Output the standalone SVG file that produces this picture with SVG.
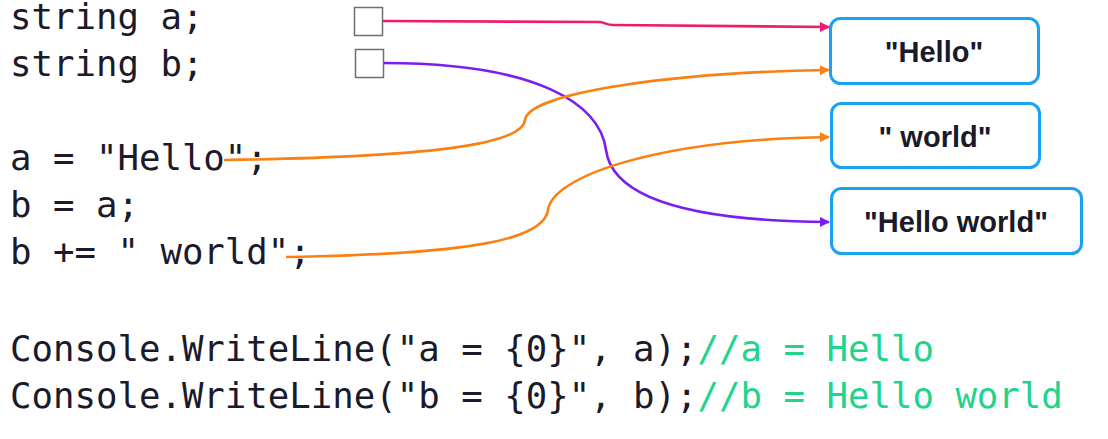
<svg xmlns="http://www.w3.org/2000/svg" width="1108" height="439" viewBox="0 0 1108 439">
<style>
.code{font-family:"DejaVu Sans Mono","Liberation Mono",monospace;font-size:35.7px;fill:#1b1a2b}
.cm{fill:#22d48b}
.var{fill:#fff;stroke:#6e6e78;stroke-width:1.5}
.box{fill:#fff;stroke:#1aa2f0;stroke-width:3}
.lbl{font-family:"Liberation Sans",Arial,sans-serif;font-weight:bold;font-size:29px;fill:#1b1a2b;text-anchor:middle}
.c{fill:none;stroke-width:2.6}
</style>
<defs>
<marker id="ap" markerWidth="10" markerHeight="10" refX="9" refY="5" orient="auto" markerUnits="userSpaceOnUse"><path d="M0,0 L10,5 L0,10 Z" fill="#ee1b6f"/></marker>
<marker id="ao" markerWidth="10" markerHeight="10" refX="9" refY="5" orient="auto" markerUnits="userSpaceOnUse"><path d="M0,0 L10,5 L0,10 Z" fill="#fb8012"/></marker>
<marker id="av" markerWidth="10" markerHeight="10" refX="9" refY="5" orient="auto" markerUnits="userSpaceOnUse"><path d="M0,0 L10,5 L0,10 Z" fill="#7a1ef0"/></marker>
</defs>
<g id="code">
<text class="code" x="10" y="29">string a;</text>
<text class="code" x="10" y="76">string b;</text>
<text class="code" x="10" y="170">a = "Hello";</text>
<text class="code" x="10" y="217">b = a;</text>
<text class="code" x="10" y="264">b += " world";</text>
<text class="code" x="10" y="361">Console.WriteLine("a = {0}", a);<tspan class="cm">//a = Hello</tspan></text>
<text class="code" x="10" y="408">Console.WriteLine("b = {0}", b);<tspan class="cm">//b = Hello world</tspan></text>
</g>
<g id="var-a"><rect class="var" x="354.5" y="7.5" width="28" height="28"/></g>
<g id="var-b"><rect class="var" x="355.5" y="49.5" width="28" height="28"/></g>
<g id="node-hello"><rect class="box" x="830.5" y="18.5" width="208" height="65" rx="10"/><text class="lbl" x="934" y="62">"Hello"</text></g>
<g id="node-world"><rect class="box" x="831.5" y="103.5" width="208" height="64" rx="10"/><text class="lbl" x="935" y="147">" world"</text></g>
<g id="node-helloworld"><rect class="box" x="831.5" y="188.5" width="250" height="65" rx="10"/><text class="lbl" x="956" y="232">"Hello world"</text></g>
<g id="connectors">
<path class="c" stroke="#ee1b6f" d="M383,21 L598,22 C606,22 604,25 614,25 L829,27" marker-end="url(#ap)"/>
<path class="c" stroke="#7a1ef0" d="M384,63 C540,63 600,105 606,150 C612,195 680,221 829,222" marker-end="url(#av)"/>
<path class="c" stroke="#fb8012" d="M224,160 C420,157 522,146 525,120 C528,92 680,72 829,70" marker-end="url(#ao)"/>
<path class="c" stroke="#fb8012" d="M286,257 C470,254 544,240 548,210 C552,178 650,140 829,137" marker-end="url(#ao)"/>
</g>
</svg>
